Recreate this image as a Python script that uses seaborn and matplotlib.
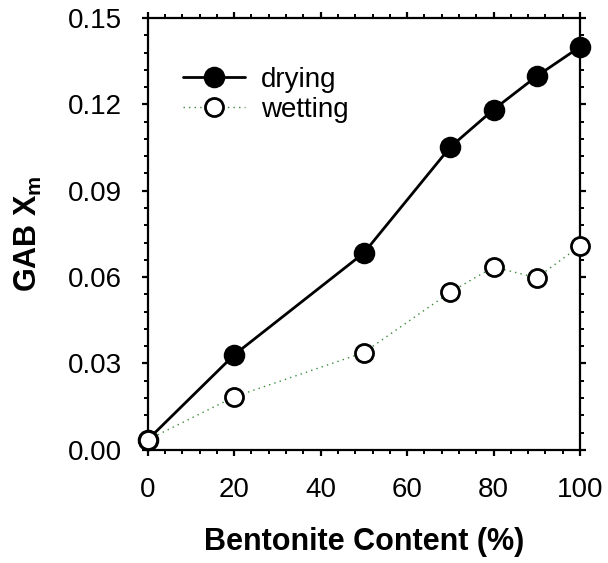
import matplotlib
matplotlib.use("Agg")
import matplotlib.pyplot as plt
from matplotlib.ticker import MultipleLocator, FormatStrFormatter
import seaborn as sns
import pandas as pd

bentonite = [0, 20, 50, 70, 80, 90, 100]
drying = [0.0035, 0.0330, 0.0684, 0.1052, 0.1182, 0.1298, 0.1400]
wetting = [0.0035, 0.0184, 0.0338, 0.0548, 0.0635, 0.0598, 0.0708]

sns.set_theme(style="ticks")
plt.rcParams["font.family"] = ["Liberation Sans", "DejaVu Sans"]
plt.rcParams["text.color"] = "black"
plt.rcParams["axes.labelcolor"] = "black"

fig = plt.figure(figsize=(6.08, 5.63), dpi=100)
ax = fig.add_axes([0.243, 0.201, 0.711, 0.767])

df_dry = pd.DataFrame({"x": bentonite, "y": drying})
df_wet = pd.DataFrame({"x": bentonite, "y": wetting})

sns.lineplot(data=df_dry, x="x", y="y", ax=ax, color="black", lw=2,
             marker="o", markersize=14, markerfacecolor="black",
             markeredgecolor="black", markeredgewidth=1.5,
             label="drying", clip_on=False, zorder=4)
sns.lineplot(data=df_wet, x="x", y="y", ax=ax, color="#3a8a3a", lw=1,
             linestyle=(0, (1, 3)), marker="o", markersize=13,
             markerfacecolor="white", markeredgecolor="black",
             markeredgewidth=2, label="wetting", clip_on=False, zorder=4)

ax.set_xlim(0, 100)
ax.set_ylim(0, 0.15)
ax.xaxis.set_major_locator(MultipleLocator(20))
ax.xaxis.set_minor_locator(MultipleLocator(4))
ax.yaxis.set_major_locator(MultipleLocator(0.03))
ax.yaxis.set_minor_locator(MultipleLocator(0.006))
ax.yaxis.set_major_formatter(FormatStrFormatter("%.2f"))

for s in ax.spines.values():
    s.set_linewidth(1.6)
    s.set_color("black")
    s.set_visible(True)

ax.tick_params(which="major", direction="out", length=4.5, width=1.6,
               labelsize=20, colors="black", top=True, right=True)
ax.tick_params(which="minor", direction="out", length=2.6, width=1.4,
               top=True, right=True, colors="black")
ax.tick_params(axis="x", which="major", pad=15)
ax.tick_params(axis="y", which="major", pad=14)

ax.set_xlabel("Bentonite Content (%)", fontsize=22, fontweight="bold", labelpad=17)
ax.set_ylabel(r"GAB X$_\mathregular{m}$", fontsize=22, fontweight="bold", labelpad=17)

leg = ax.legend(loc="upper left", bbox_to_anchor=(0.081, 0.887), frameon=False,
                fontsize=20, handlelength=2.23, handletextpad=0.58,
                labelspacing=0.15, borderaxespad=0, borderpad=0)

fig.savefig("out.png", dpi=100, facecolor="white")
